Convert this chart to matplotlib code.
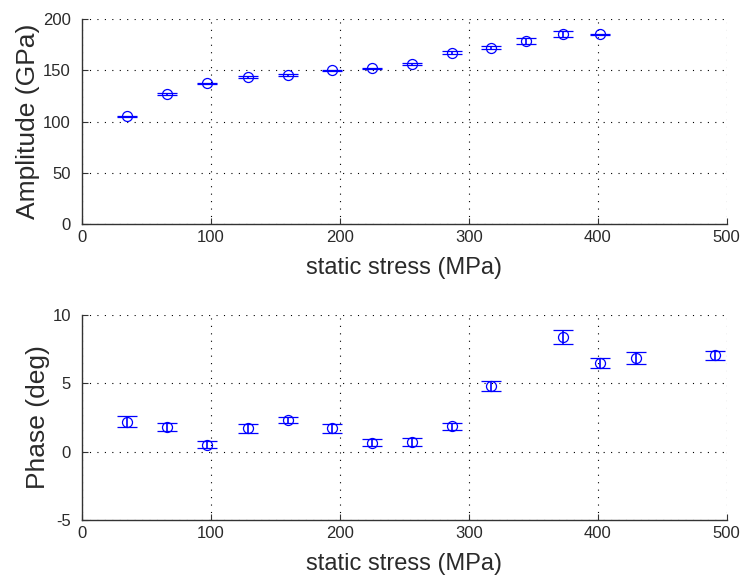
import matplotlib
matplotlib.use("Agg")
import matplotlib.pyplot as plt

# Data
x_amp = [35, 66, 97, 129, 160, 194, 225, 256, 287, 317, 344, 373, 402]
amp = [105, 127, 137.5, 143.5, 145.5, 150, 152, 156, 167, 172, 178.5, 185.5, 185]
amp_err = [0.8, 0.8, 0.5, 0.8, 1.0, 0.5, 0.5, 1.0, 1.5, 1.2, 3.2, 2.8, 0.6]

x_ph = [35, 66, 97, 129, 160, 194, 225, 256, 287, 317, 373, 402, 430, 491]
phase = [2.2, 1.8, 0.5, 1.7, 2.35, 1.7, 0.65, 0.7, 1.85, 4.8, 8.4, 6.5, 6.85, 7.05]
phase_err = [0.39, 0.32, 0.26, 0.3, 0.22, 0.32, 0.27, 0.27, 0.28, 0.39, 0.5, 0.35, 0.44, 0.32]

xticks = [0, 100, 200, 300, 400, 500]
amp_ticks = [0, 50, 100, 150, 200]
ph_ticks = [-5, 0, 5, 10]

plt.rcParams['font.family'] = ['Liberation Sans', 'DejaVu Sans']
plt.rcParams['axes.unicode_minus'] = False

fig = plt.figure(figsize=(7.41, 5.77), dpi=100)
ax1 = fig.add_axes([82/741, 1-224/577, (726.7-82)/741, 205/577])
ax2 = fig.add_axes([82/741, 1-520/577, (726.7-82)/741, 205/577])

def style(ax, yticks, ylabel):
    ax.set_xlim(0, 500)
    ax.set_ylim(yticks[0], yticks[-1])
    ax.set_xticks(xticks)
    ax.set_yticks(yticks)
    for s in ['top', 'right']:
        ax.spines[s].set_visible(False)
    for s in ['left', 'bottom']:
        ax.spines[s].set_color('#333333')
        ax.spines[s].set_linewidth(1.0)
    ax.tick_params(direction='in', length=4, width=0.8, color='#333333',
                   labelsize=12, labelcolor='#2a2a2a')
    ax.tick_params(axis='y', pad=8)
    ax.tick_params(axis='x', pad=4)
    ax.grid(True, color='black', linestyle=(0, (1, 5.7)), linewidth=0.8)
    ax.set_axisbelow(True)
    ax.set_xlabel('static stress (MPa)', fontsize=17, color='#2a2a2a', labelpad=9)
    ax.set_ylabel(ylabel, fontsize=19, color='#2a2a2a', labelpad=2)

kw = dict(fmt='o', color='#0000ff', mfc='none', mec='#0000ff', ms=7.2, mew=0.9,
          ecolor='#0000ff', elinewidth=1.2, capsize=7, capthick=1.6)
ax1.errorbar(x_amp, amp, yerr=amp_err, **kw)
ax2.errorbar(x_ph, phase, yerr=phase_err, **kw)

style(ax1, amp_ticks, 'Amplitude (GPa)')
style(ax2, ph_ticks, 'Phase (deg)')

fig.savefig('out.png', dpi=100)
